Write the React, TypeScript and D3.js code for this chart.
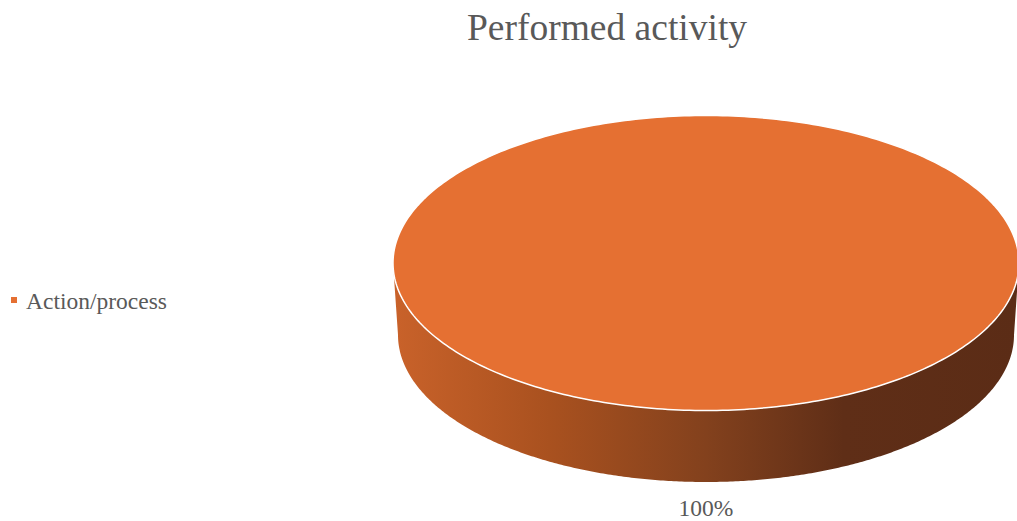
import React from "react";
import * as d3 from "d3";

const categories: string[] = ["Action/process"];
const values: number[] = [100];
const labels: string[] = ["100%"];
const title = "Performed activity";

const W = 1017;
const H = 521;
const FONT = "'Liberation Serif', 'Times New Roman', serif";

export default function App() {
  const cx = 706;
  const cyTop = 263;
  const rx = 313;
  const ry = 147.5;
  const rxB = 308;
  const cyBot = 335;
  const ryB = 147;

  const pie = d3.pie<number>().sort(null).startAngle(0).endAngle(2 * Math.PI);
  const arcs = pie(values);

  const line = d3.line<[number, number]>().curve(d3.curveLinearClosed);

  const pt = (a: number, ex: number, ey: number, cy: number): [number, number] => [
    cx + ex * Math.sin(a),
    cy - ey * Math.cos(a),
  ];

  const slices = arcs.map((arc, i) => {
    const n = 360;
    const topPts: [number, number][] = [];
    const full = arc.endAngle - arc.startAngle >= 2 * Math.PI - 1e-6;
    if (!full) topPts.push([cx, cyTop]);
    for (let k = 0; k <= n; k++) {
      const a = arc.startAngle + ((arc.endAngle - arc.startAngle) * k) / n;
      topPts.push(pt(a, rx, ry, cyTop));
    }
    const s0 = Math.max(arc.startAngle, Math.PI / 2);
    const s1 = Math.min(arc.endAngle, (3 * Math.PI) / 2);
    let sidePts: [number, number][] = [];
    if (s1 > s0) {
      const upper: [number, number][] = [];
      const lower: [number, number][] = [];
      for (let k = 0; k <= n; k++) {
        const a = s0 + ((s1 - s0) * k) / n;
        upper.push(pt(a, rx, ry, cyTop));
        lower.push(pt(a, rxB, ryB, cyBot));
      }
      sidePts = [...upper, ...lower.reverse()];
    }
    return { i, top: line(topPts) as string, side: sidePts.length ? (line(sidePts) as string) : null };
  });

  const labelAngle = (arcs[0].startAngle + arcs[0].endAngle) / 2;
  const [lx] = pt(labelAngle, rx, ry, cyTop);

  return (
    <svg width={W} height={H} style={{ position: "absolute", left: 0, top: 0 }}>
      <defs>
        <linearGradient id="sideGrad" gradientUnits="userSpaceOnUse" x1={cx - rx} y1={0} x2={cx + rx} y2={0}>
          <stop offset="0%" stopColor="#c9622a" />
          <stop offset="25%" stopColor="#a9511f" />
          <stop offset="50%" stopColor="#83411d" />
          <stop offset="72%" stopColor="#5f2e17" />
          <stop offset="100%" stopColor="#5b2c16" />
        </linearGradient>
      </defs>
      <rect x={0} y={0} width={W} height={H} fill="#ffffff" />
      <text x={607} y={40} textAnchor="middle" fontFamily={FONT} fontSize={37.5} fill="#595959">
        {title}
      </text>
      {slices.map((s) => (
        <g key={s.i}>
          {s.side && <path d={s.side} fill="url(#sideGrad)" />}
          <path d={s.top} fill="#e57032" stroke="#ffffff" strokeWidth={1.5} />
        </g>
      ))}
      <text x={lx} y={516} textAnchor="middle" fontFamily={FONT} fontSize={23.5} fill="#595959">
        {labels[0]}
      </text>
      {categories.map((c, i) => (
        <g key={c} transform={`translate(11, ${297 + i * 28})`}>
          <rect x={0} y={0} width={6} height={6} fill="#e57032" />
          <text x={15} y={11.5} fontFamily={FONT} fontSize={23.5} fill="#595959">
            {c}
          </text>
        </g>
      ))}
    </svg>
  );
}
